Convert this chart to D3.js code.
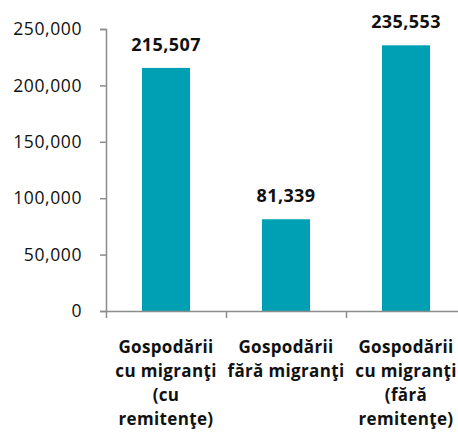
<!DOCTYPE html>
<html><head><meta charset="utf-8">
<script src="https://cdn.jsdelivr.net/npm/d3@7"></script>
<style>body{margin:0;background:#fff}svg{display:block}text{font-family:"Open Sans",sans-serif}</style>
</head><body><svg id="c" width="458" height="435"></svg>
<script>
const categories = ["Gospodării cu migranţi (cu remitenţe)", "Gospodării fără migranţi", "Gospodării cu migranţi (fără remitenţe)"];
const categoryLines = [["Gospodării","cu migranţi","(cu","remitenţe)"],["Gospodării","fără migranţi"],["Gospodării","cu migranţi","(fără","remitenţe)"]];
const values = [215507, 81339, 235553];
const yTicks = [0, 50000, 100000, 150000, 200000, 250000];

const svg = d3.select("#c");
const x = d3.scaleBand().domain(categories).range([106, 466]).paddingInner(0.6).paddingOuter(0.3);
const y = d3.scaleLinear().domain([0, 250000]).range([311, 29]);
const fmt = d3.format(",");
const axisColor = "#8c8c8c";

// y axis
const ya = svg.append("g").attr("transform","translate(106,0)")
  .call(d3.axisLeft(y).tickValues(yTicks).tickFormat(fmt).tickSize(6).tickPadding(18));
ya.select(".domain").attr("stroke",axisColor).attr("stroke-width",1.5);
ya.selectAll(".tick line").attr("stroke",axisColor).attr("stroke-width",1.5);
ya.selectAll(".tick text").attr("font-size",17.5).attr("fill","#111").attr("font-family","Open Sans").attr("letter-spacing",0.6);

// bars
svg.selectAll("rect.bar").data(values).join("rect").attr("class","bar")
  .attr("x",(d,i)=>x(categories[i])).attr("width",x.bandwidth())
  .attr("y",d=>y(d)).attr("height",d=>y(0)-y(d)).attr("fill","#00a0b4");

// x axis
const xb = d3.scaleLinear().domain([0,3]).range([106,466]);
const xa = svg.append("g").attr("transform","translate(0,311)")
  .call(d3.axisBottom(xb).tickValues([0,1,2,3]).tickFormat("").tickSize(7).tickSizeOuter(0));
xa.select(".domain").attr("stroke",axisColor).attr("stroke-width",1.5);
xa.selectAll(".tick line").attr("stroke",axisColor).attr("stroke-width",1.5);

// value labels
svg.selectAll("text.val").data(values).join("text").attr("class","val")
  .attr("x",(d,i)=>x(categories[i])+x.bandwidth()/2).attr("y",d=>y(d)-17)
  .attr("text-anchor","middle").attr("font-size",18).attr("font-weight","bold").attr("fill","#111")
  .attr("letter-spacing",0.4)
  .text(d=>fmt(d));

// category labels
categoryLines.forEach((lines,i)=>{
  const t = svg.append("text").attr("text-anchor","middle").attr("font-size",17).attr("font-weight","bold").attr("fill","#111").attr("letter-spacing",0.35);
  lines.forEach((l,j)=>t.append("tspan").attr("x",x(categories[i])+x.bandwidth()/2).attr("y",353+j*24).text(l));
});
</script></body></html>
